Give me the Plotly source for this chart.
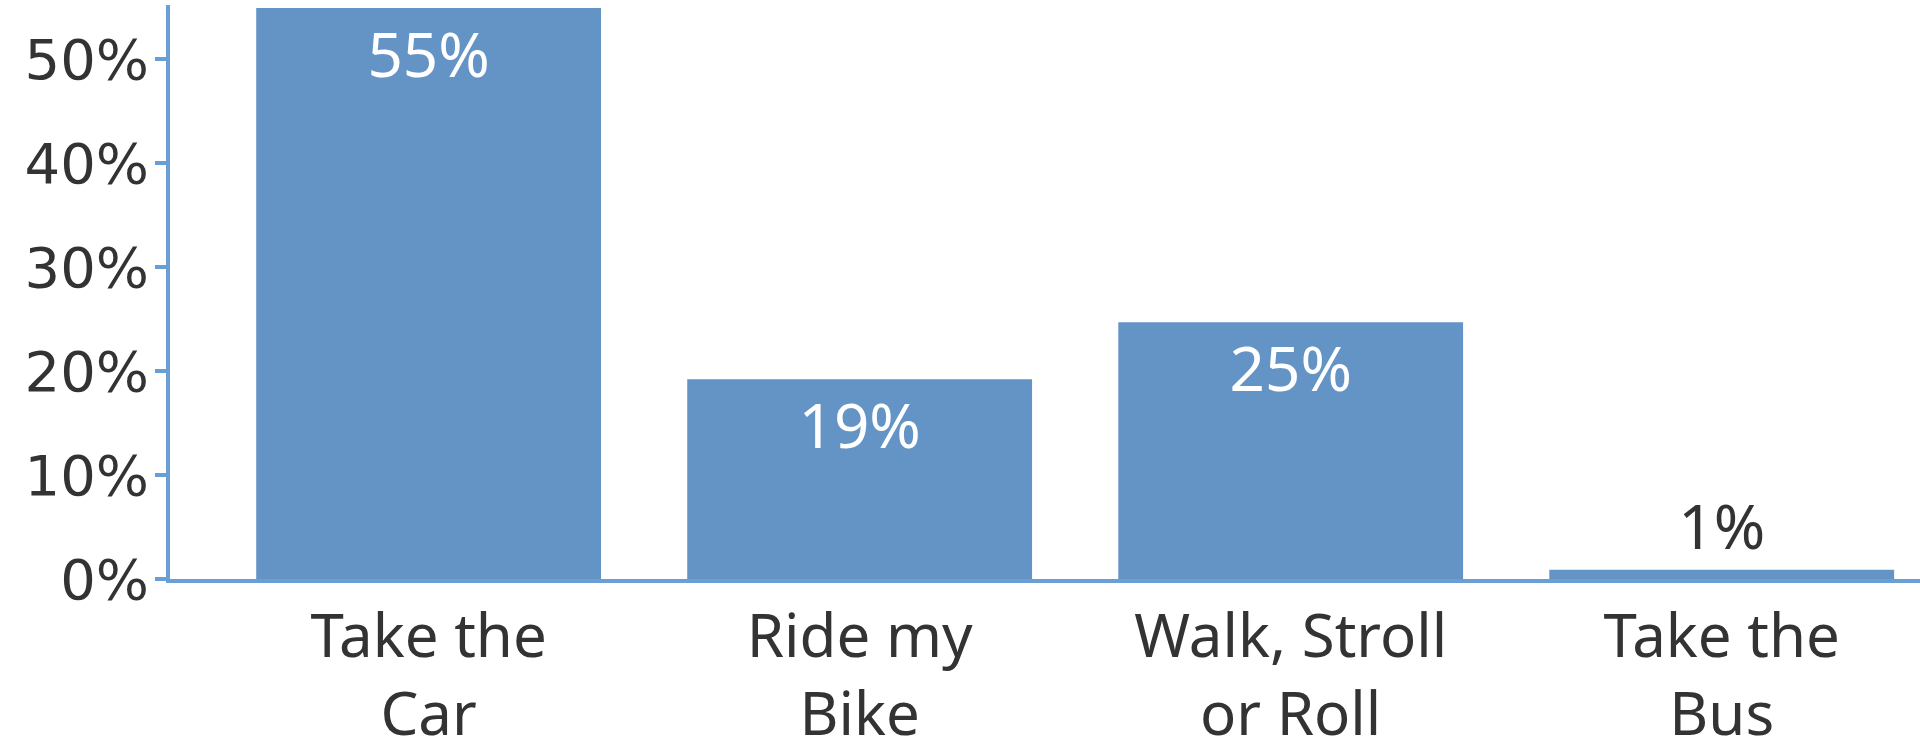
import plotly.graph_objects as go

categories = ["Take the<br>Car", "Ride my<br>Bike", "Walk, Stroll<br>or Roll", "Take the<br>Bus"]
values = [0.549, 0.192, 0.247, 0.009]
tick_vals = [0, 0.1, 0.2, 0.3, 0.4, 0.5]
tick_text = ["0%", "10%", "20%", "30%", "40%", "50%"]

BAR = "#6394C5"
AXIS = "#6A9FD6"
DARK = "#333333"

fig = go.Figure(go.Bar(
    x=categories,
    y=values,
    marker=dict(color=BAR, line=dict(width=0)),
    width=0.8,
    texttemplate="%{y:.0%}",
    textposition="auto",
    insidetextanchor="end",
    insidetextfont=dict(family="Noto Sans", size=62, color="white"),
    outsidetextfont=dict(family="Noto Sans", size=62, color=DARK),
    cliponaxis=False,
    hoverinfo="skip",
))

fig.update_layout(
    width=1920, height=745,
    margin=dict(l=170, r=0, t=5, b=166, autoexpand=False),
    paper_bgcolor="white",
    plot_bgcolor="white",
    showlegend=False,
    bargap=0.2,
)
fig.update_xaxes(
    range=[-0.6, 3.46],
    automargin=False,
    showline=True, linecolor=AXIS, linewidth=3.5,
    showgrid=False, ticks="",
    tickfont=dict(family="Noto Sans", size=60, color=DARK),
    ticklabelstandoff=2,
)
fig.update_yaxes(
    range=[0, 0.552],
    automargin=False,
    showline=True, linecolor=AXIS, linewidth=3.5,
    showgrid=False, zeroline=False,
    ticks="outside", ticklen=11, tickwidth=3.5, tickcolor=AXIS,
    tickvals=tick_vals, ticktext=tick_text,
    tickfont=dict(family="DejaVu Sans", size=56, color=DARK),
    ticklabelstandoff=-5,
)

fig.write_html(
    "out.html",
    config={"displayModeBar": False},
    post_script="document.body.style.margin='0';document.body.style.overflow='hidden';",
)
